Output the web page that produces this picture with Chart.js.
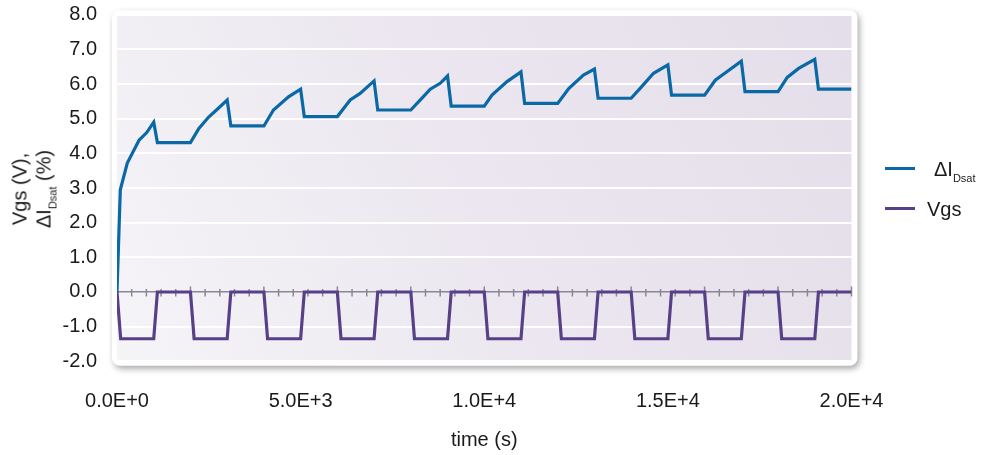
<!DOCTYPE html>
<html>
<head>
<meta charset="utf-8">
<script src="https://cdn.jsdelivr.net/npm/chart.js@4"></script>
<style>
  body { margin: 0; background: #fff; font-family: "Liberation Sans", Arial, sans-serif; color: #1a1a1a; }
  #wrap { position: relative; width: 984px; height: 455px; }
  .ytitle { position: absolute; left: 33px; top: 189px; transform: translate(-50%, -50%) rotate(-90deg);
    font-size: 20px; line-height: 24px; text-align: center; white-space: nowrap; }
  .sub { font-size: 11px; position: relative; top: 6px; }
  .swatch { position: absolute; left: 885px; width: 30px; height: 3px; }
  .ltext { position: absolute; font-size: 20px; line-height: 24px; white-space: nowrap; }
</style>
</head>
<body>
<div id="wrap">
  <canvas id="chart" width="984" height="455"></canvas>
  <div class="ytitle">Vgs (V),<br>ΔI<span class="sub">Dsat</span> (%)</div>
  <div class="swatch" style="top:166.5px;background:#0a69a5"></div>
  <div class="ltext" style="left:934px;top:157px">ΔI<span class="sub">Dsat</span></div>
  <div class="swatch" style="top:206.5px;background:#584088"></div>
  <div class="ltext" style="left:927px;top:197px">Vgs</div>
</div>
<script>
// ΔIDsat drift (%)
const timeIdsat = [0, 90, 280, 600, 810, 1000, 1100, 2000, 2230, 2490, 2760, 3000, 3100, 4000, 4260, 4670, 5000, 5100,
  6000, 6350, 6620, 7000, 7100, 8000, 8260, 8530, 8800, 9000, 9100, 10000, 10210, 10620, 11000, 11100,
  12000, 12300, 12700, 13000, 13100, 14000, 14250, 14610, 15000, 15100, 16000, 16290, 16520, 17000, 17100,
  18000, 18250, 18560, 19000, 19100, 20000];
const deltaIdsat = [0, 2.95, 3.72, 4.38, 4.6, 4.9, 4.31, 4.31, 4.72, 5.04, 5.3, 5.54, 4.79, 4.79, 5.25, 5.63, 5.85, 5.06,
  5.06, 5.54, 5.73, 6.09, 5.25, 5.25, 5.54, 5.85, 6.02, 6.23, 5.36, 5.36, 5.68, 6.07, 6.35, 5.44,
  5.44, 5.87, 6.26, 6.43, 5.59, 5.59, 5.88, 6.31, 6.55, 5.68, 5.68, 6.11, 6.29, 6.66, 5.78,
  5.78, 6.19, 6.45, 6.71, 5.85, 5.85];

// gate voltage (V), stress / recovery cycles
const timeVgs = [0, 100, 1000, 1100, 2000, 2100, 3000, 3100, 4000, 4100, 5000, 5100, 6000, 6100, 7000, 7100,
  8000, 8100, 9000, 9100, 10000, 10100, 11000, 11100, 12000, 12100, 13000, 13100, 14000, 14100, 15000, 15100,
  16000, 16100, 17000, 17100, 18000, 18100, 19000, 19100, 20000];
const vgs = [0, -1.35, -1.35, 0, 0, -1.35, -1.35, 0, 0, -1.35, -1.35, 0, 0, -1.35, -1.35, 0,
  0, -1.35, -1.35, 0, 0, -1.35, -1.35, 0, 0, -1.35, -1.35, 0, 0, -1.35, -1.35, 0,
  0, -1.35, -1.35, 0, 0, -1.35, -1.35, 0, 0];

const xTickLabels = ["0.0E+0", "5.0E+3", "1.0E+4", "1.5E+4", "2.0E+4"];
const minorTickStep = 400;
const majorTickStep = 2000;

const font = { family: '"Liberation Sans", Arial, sans-serif', size: 20 };

const panelPlugin = {
  id: "panel",
  beforeDraw(chart) {
    const { ctx, chartArea: a } = chart;
    ctx.save();
    ctx.shadowColor = "rgba(0,0,0,0.35)";
    ctx.shadowBlur = 6;
    ctx.shadowOffsetX = 2;
    ctx.shadowOffsetY = 3;
    ctx.fillStyle = "#fff";
    ctx.beginPath();
    ctx.roundRect(a.left - 5, a.top - 4.5, a.width + 11, a.height + 9, 8);
    ctx.fill();
    ctx.restore();

    const g = ctx.createLinearGradient(a.left, a.bottom, a.right, a.top);
    g.addColorStop(0, "#f5f4f7");
    g.addColorStop(0.5, "#ebe6ef");
    g.addColorStop(1, "#e4deea");
    ctx.fillStyle = g;
    ctx.fillRect(a.left, a.top, a.width, a.height);
  }
};

// little tick marks crossing the zero line
const zeroTicksPlugin = {
  id: "zeroTicks",
  beforeDatasetsDraw(chart) {
    const { ctx, scales } = chart;
    const y0 = scales.y.getPixelForValue(0);
    ctx.save();
    ctx.strokeStyle = "#8a8794";
    ctx.lineWidth = 1.5;
    for (let t = minorTickStep; t <= scales.x.max; t += minorTickStep) {
      const x = scales.x.getPixelForValue(t);
      const up = t % majorTickStep === 0 ? 5.5 : 3;
      ctx.beginPath();
      ctx.moveTo(x, y0 - up);
      ctx.lineTo(x, y0 + 4.5);
      ctx.stroke();
    }
    ctx.restore();
  }
};

new Chart(document.getElementById("chart"), {
  type: "line",
  data: {
    datasets: [
      { label: "ΔIDsat", data: timeIdsat.map((t, i) => ({ x: t, y: deltaIdsat[i] })),
        borderColor: "#0a69a5", borderWidth: 3.2, pointRadius: 0, tension: 0 },
      { label: "Vgs", data: timeVgs.map((t, i) => ({ x: t, y: vgs[i] })),
        borderColor: "#584088", borderWidth: 3.2, pointRadius: 0, tension: 0 },
    ]
  },
  options: {
    responsive: false,
    animation: false,
    devicePixelRatio: 1,
    layout: { padding: { top: 14.7, right: 132.5, left: 0, bottom: 0 } },
    plugins: { legend: { display: false }, tooltip: { enabled: false } },
    scales: {
      x: {
        type: "linear", min: 0, max: 20000,
        afterFit: (s) => { s.height = 93.7; s.paddingLeft = 0; s.paddingRight = 0; },
        border: { display: false },
        grid: { display: false, drawTicks: false },
        ticks: { stepSize: 5000, padding: 28, color: "#1a1a1a", font, maxRotation: 0,
          callback: (v) => xTickLabels[Math.round(v / 5000)] },
        title: { display: true, text: "time (s)", color: "#1a1a1a", font, padding: { top: 0, bottom: 3 } }
      },
      y: {
        min: -2, max: 8,
        afterFit: (s) => { s.width = 117; s.paddingTop = 0; s.paddingBottom = 0; },
        border: { display: false },
        grid: {
          drawTicks: false,
          color: (c) => c.tick && c.tick.value === 0 ? "#8a8794" : "rgba(255,255,255,0.95)",
          lineWidth: (c) => c.tick && c.tick.value === 0 ? 1.5 : 2
        },
        ticks: { stepSize: 1, padding: 20, color: "#1a1a1a", font, callback: (v) => v.toFixed(1) }
      }
    }
  },
  plugins: [panelPlugin, zeroTicksPlugin]
});
</script>
</body>
</html>
